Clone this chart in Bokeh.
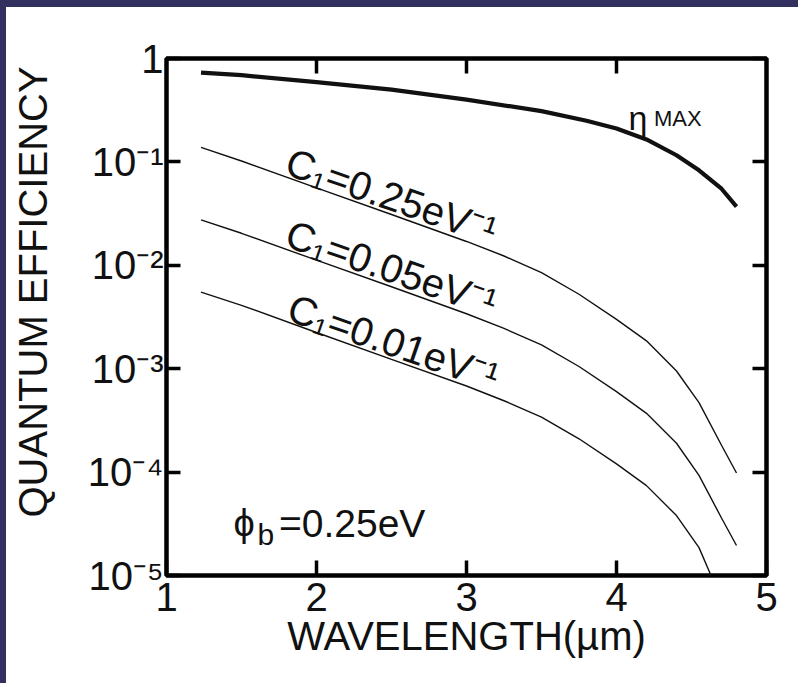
from bokeh.plotting import figure
from bokeh.models import (Range1d, LogAxis, LinearAxis, FixedTicker, Label,
                          CustomJSTickFormatter, Title)
from bokeh.embed import file_html
from bokeh.resources import INLINE

# ---------------- data ----------------
wl_eta = [1.23, 1.5, 2.0, 2.5, 3.0, 3.5, 3.8, 4.0, 4.2, 4.4, 4.55, 4.7, 4.8]
eta_max = [0.73, 0.69, 0.59, 0.50, 0.40, 0.31, 0.25, 0.21, 0.165, 0.116, 0.083, 0.055, 0.037]

wl_c = [1.23, 1.5, 2.0, 2.5, 3.0, 3.25, 3.5, 3.75, 4.0, 4.2, 4.4, 4.55, 4.7, 4.8]
c_025 = [0.138, 0.102, 0.056, 0.031, 0.017, 0.0123, 0.0085, 0.00525, 0.0030,
         0.00186, 0.00095, 0.00047, 0.000182, 0.000098]
c_005 = [0.0275, 0.0204, 0.0112, 0.0062, 0.0034, 0.00245, 0.0017, 0.00105,
         0.0006, 0.00037, 0.00019, 0.000093, 0.000036, 0.0000195]
wl_c001 = [1.23, 1.5, 2.0, 2.5, 3.0, 3.25, 3.5, 3.75, 4.0, 4.2, 4.4, 4.55, 4.63]
c_001 = [0.0055, 0.0041, 0.00224, 0.00123, 0.00068, 0.00049, 0.00034, 0.00021,
         0.00012, 0.000074, 0.000038, 0.0000186, 0.00001]

x_ticks = [1, 2, 3, 4, 5]
x_inner_ticks = [2, 3, 4]
y_ticks = [1, 0.1, 0.01, 0.001, 0.0001, 0.00001]
y_tick_labels = ["1", "10\u207b\u00b9", "10\u207b\u00b2", "10\u207b\u00b3",
                 "10\u207b\u2074", "10\u207b\u2075"]

x_title = "WAVELENGTH(\u00b5m)"
y_title = "QUANTUM EFFICIENCY"
c_labels = ["C\u2081=0.25eV\u207b\u00b9", "C\u2081=0.05eV\u207b\u00b9",
            "C\u2081=0.01eV\u207b\u00b9"]

FONT = "Liberation Sans"
NAVY = "#32305f"
INK = "#111111"
SHIFT = 24  # canvas extends this far past the page's left edge

p = figure(frame_width=600, frame_height=517,
           x_range=Range1d(1, 5), y_range=Range1d(1e-5, 1),
           y_axis_type="log", output_backend="svg", toolbar_location=None,
           min_border_left=166 + SHIFT, min_border_right=32,
           min_border_top=58, min_border_bottom=108)
p.styles = {
    "margin-left": f"-{SHIFT}px",
    "background": f"linear-gradient(to bottom, {NAVY} 7px, transparent 7px), "
                  f"linear-gradient(to right, white {SHIFT}px, {NAVY} {SHIFT}px, "
                  f"{NAVY} {SHIFT + 6}px, white {SHIFT + 6}px)",
}
p.background_fill_color = "white"
p.border_fill_color = None
p.outline_line_color = "black"
p.outline_line_width = 4.5
p.xgrid.visible = False
p.ygrid.visible = False

blank = CustomJSTickFormatter(code="return '';")

# bottom axis
xa = p.xaxis[0]
xa.ticker = FixedTicker(ticks=x_ticks)
xa.major_tick_in = 15
xa.major_tick_out = 0
xa.minor_tick_line_color = None
xa.axis_line_color = None
xa.major_tick_line_width = 3.5
xa.major_label_text_font = FONT
xa.major_label_text_font_size = "40px"
xa.major_label_text_color = INK
xa.major_label_standoff = 7
xa.axis_label = x_title
xa.axis_label_text_font = FONT
xa.axis_label_text_font_size = "40px"
xa.axis_label_text_font_style = "normal"
xa.axis_label_text_color = INK
xa.axis_label_standoff = 0

# left axis
ya = p.yaxis[0]
ya.ticker = FixedTicker(ticks=y_ticks)
ya.formatter = CustomJSTickFormatter(args=dict(vals=y_ticks, labs=y_tick_labels), code="""
let best = 0, bd = 1e9;
for (let i = 0; i < vals.length; i++) {
  const d = Math.abs(Math.log10(vals[i]) - Math.log10(tick));
  if (d < bd) { bd = d; best = i; }
}
return labs[best];
""")
ya.major_tick_in = 14
ya.major_tick_out = 0
ya.minor_tick_line_color = None
ya.axis_line_color = None
ya.major_tick_line_width = 3.5
ya.major_label_text_font = FONT
ya.major_label_text_font_size = "40px"
ya.major_label_text_color = INK
ya.major_label_standoff = 3

# y title (sits above the frame centre, so placed as a side title)
yt = Title(text=y_title, align="left", offset=58, vertical_align="top",
           text_font=FONT, text_font_size="40px", text_font_style="normal",
           text_color=INK)
if "standoff" in yt.properties():
    yt.standoff = 56
p.add_layout(yt, "left")

# right axis (ticks only)
ra = LogAxis(ticker=FixedTicker(ticks=y_ticks), formatter=blank)
ra.major_tick_in = 14
ra.major_tick_out = 0
ra.minor_tick_line_color = None
ra.axis_line_color = None
ra.major_tick_line_width = 3.5
ra.major_label_standoff = 0
p.add_layout(ra, "right")

# top axis (ticks only)
ta = LinearAxis(ticker=FixedTicker(ticks=x_inner_ticks), formatter=blank)
ta.major_tick_in = 15
ta.major_tick_out = 0
ta.minor_tick_line_color = None
ta.axis_line_color = None
ta.major_tick_line_width = 3.5
ta.major_label_standoff = 0
p.add_layout(ta, "above")

# curves
p.line(wl_eta, eta_max, line_width=4.2, line_color=INK, line_join="round")
p.line(wl_c, c_025, line_width=1.4, line_color=INK)
p.line(wl_c, c_005, line_width=1.4, line_color=INK)
p.line(wl_c001, c_001, line_width=1.4, line_color=INK)

# eta max label
p.add_layout(Label(x=4.08, y=0.265, text="\u03b7", text_font=FONT,
                   text_font_size="34px", text_color=INK,
                   text_align="left", text_baseline="alphabetic"))
p.add_layout(Label(x=4.25, y=0.265, text="MAX", text_font=FONT,
                   text_font_size="22px", text_color=INK,
                   text_align="left", text_baseline="alphabetic"))

# rotated C1 labels
for (lx, ly), t in zip([(1.807, 0.103), (1.807, 0.0208), (1.82, 0.0040)], c_labels):
    p.add_layout(Label(x=lx, y=ly, text=t, angle=-19, angle_units="deg",
                       text_font=FONT, text_font_size="40px", text_color=INK,
                       text_align="left", text_baseline="alphabetic"))

# phi_b label
p.add_layout(Label(x=1.446, y=3.2e-5, text="\u03d5", text_font=FONT,
                   text_font_size="38px", text_color=INK,
                   text_align="left", text_baseline="alphabetic"))
p.add_layout(Label(x=1.607, y=2.5e-5, text="b", text_font=FONT,
                   text_font_size="30px", text_color=INK,
                   text_align="left", text_baseline="alphabetic"))
p.add_layout(Label(x=1.75, y=3.2e-5, text="=0.25eV", text_font=FONT,
                   text_font_size="39px", text_color=INK,
                   text_align="left", text_baseline="alphabetic"))

open("out.html", "w").write(file_html(p, INLINE))
